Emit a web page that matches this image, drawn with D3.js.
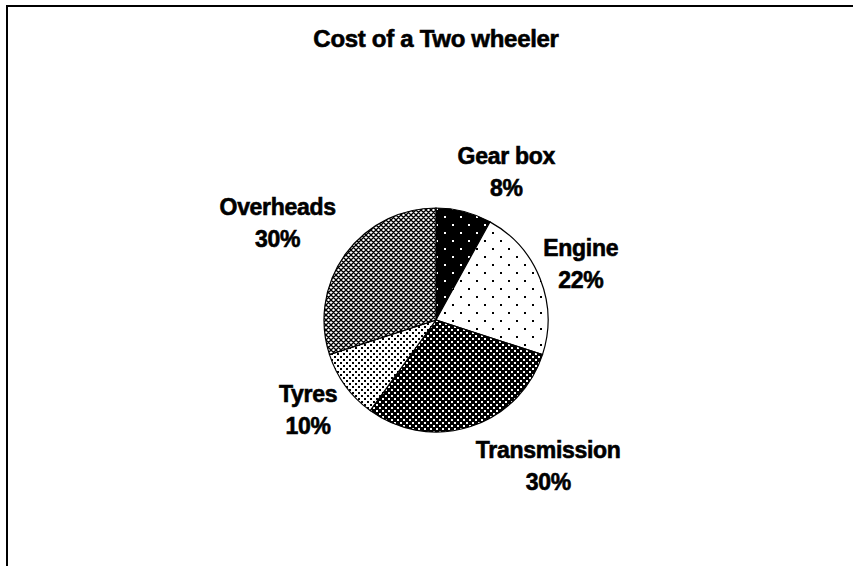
<!DOCTYPE html>
<html>
<head>
<meta charset="utf-8">
<script src="https://cdn.jsdelivr.net/npm/d3@7/dist/d3.min.js"></script>
<style>
    body { margin: 0; background: #fff; }
    .pieChart__title,
    .pieChart__label { font-family: "Liberation Sans", Arial, sans-serif; font-weight: bold; fill: #000; stroke: #000; stroke-width: 0.6px; letter-spacing: -0.3px; }
    .pieChart__title { font-size: 24px; }
    .pieChart__label { font-size: 23px; }
</style>
</head>
<body>
<div class="pieChart"></div>
<script>
// ----- DATA -----------------------------------------------------------
const chartTitle = "Cost of a Two wheeler";
const categories = ["Gear box", "Engine", "Transmission", "Tyres", "Overheads"];
const shares     = [8, 22, 30, 10, 30];
const pctLabels  = ["8%", "22%", "30%", "10%", "30%"];

// ----- LAYOUT ---------------------------------------------------------
const width = 853;
const height = 566;
const centre = { x: 436, y: 320 };
const radius = 112;
const labelGap = 17;
const lineGap = 32;
const capHeight = 16.5;

// excel nudged a couple of labels sideways, keep that look
const labelNudge = [
    { dx: 26, dy: 0 },
    { dx: -10, dy: 0 },
    { dx: 50, dy: 0 },
    { dx: 0, dy: 0 },
    { dx: -7, dy: -7 }
];

const fills = ["darkSparse", "lightSparse", "darkDense", "lightDense", "hatch"];

const svg = d3.select(".pieChart").append("svg")
    .attr("width", width)
    .attr("height", height);

// ----- PATTERNS -------------------------------------------------------
const defs = svg.append("defs");

function dotPattern( id, size, bg, fg, dot )
{
    let p = defs.append("pattern")
        .attr("id", id)
        .attr("patternUnits", "userSpaceOnUse")
        .attr("width", size)
        .attr("height", size);

    p.append("rect")
        .attr("width", size)
        .attr("height", size)
        .attr("fill", bg);

    [[0, 0], [size / 2, size / 2]].forEach( c => {
        p.append("rect")
            .attr("x", c[0])
            .attr("y", c[1])
            .attr("width", dot)
            .attr("height", dot)
            .attr("fill", fg);
    } );
}

dotPattern("darkSparse", 16, "#000", "#fff", 2);
dotPattern("lightSparse", 16, "#fff", "#000", 2);
dotPattern("darkDense", 6, "#000", "#fff", 2);
dotPattern("lightDense", 6, "#fff", "#000", 2);

let hatch = defs.append("pattern")
    .attr("id", "hatch")
    .attr("patternUnits", "userSpaceOnUse")
    .attr("width", 5)
    .attr("height", 5);

hatch.append("rect").attr("width", 5).attr("height", 5).attr("fill", "#fff");
hatch.append("path")
    .attr("d", "M0,0L5,5M5,0L0,5M-1,4L1,6M4,-1L6,1M4,6L6,4M-1,1L1,-1")
    .attr("stroke", "#000")
    .attr("stroke-width", 1.3);

// ----- FRAME & TITLE --------------------------------------------------
svg.append("rect")
    .attr("x", 7)
    .attr("y", 6)
    .attr("width", width + 20)
    .attr("height", height + 20)
    .attr("fill", "none")
    .attr("stroke", "#000")
    .attr("stroke-width", 2);

svg.append("text")
    .classed("pieChart__title", true)
    .attr("x", centre.x)
    .attr("y", 47)
    .attr("text-anchor", "middle")
    .text(chartTitle);

// ----- PIE ------------------------------------------------------------
const data = categories.map( (name, i) => {
    return { name: name, value: shares[i], label: pctLabels[i], fill: fills[i] };
} );

const pie = d3.pie()
    .sort(null)
    .value( d => d.value );

const arc = d3.arc()
    .innerRadius(0)
    .outerRadius(radius);

const arcs = pie(data);

let chart = svg.append("g")
    .attr("transform", "translate(" + centre.x + "," + centre.y + ")");

chart.selectAll(".pieChart__slice")
    .data(arcs)
    .enter()
        .append("path")
        .classed("pieChart__slice", true)
        .attr("d", arc)
        .attr("fill", d => "url(#" + d.data.fill + ")")
        .attr("stroke", "#000")
        .attr("stroke-width", 1.2);

// ----- LABELS ---------------------------------------------------------
let labels = chart.selectAll(".pieChart__label")
    .data(arcs)
    .enter()
        .append("text")
        .classed("pieChart__label", true)
        .attr("text-anchor", "middle");

labels.append("tspan")
    .attr("x", 0)
    .attr("y", 0)
    .text( d => d.data.name );

labels.append("tspan")
    .attr("x", 0)
    .attr("y", lineGap)
    .text( d => d.data.label );

labels.attr("transform", function(d, i)
{
    const a = ( d.startAngle + d.endAngle ) / 2;
    const w = this.getBBox().width;
    const h = capHeight + lineGap;

    const mx = ( radius + labelGap + w / 2 ) * Math.sin(a) + labelNudge[i].dx;
    const my = -( radius + labelGap + h / 2 ) * Math.cos(a) + labelNudge[i].dy;

    // first baseline sits cap height below the block top
    return "translate(" + mx + "," + ( my - h / 2 + capHeight ) + ")";
});
</script>
</body>
</html>
